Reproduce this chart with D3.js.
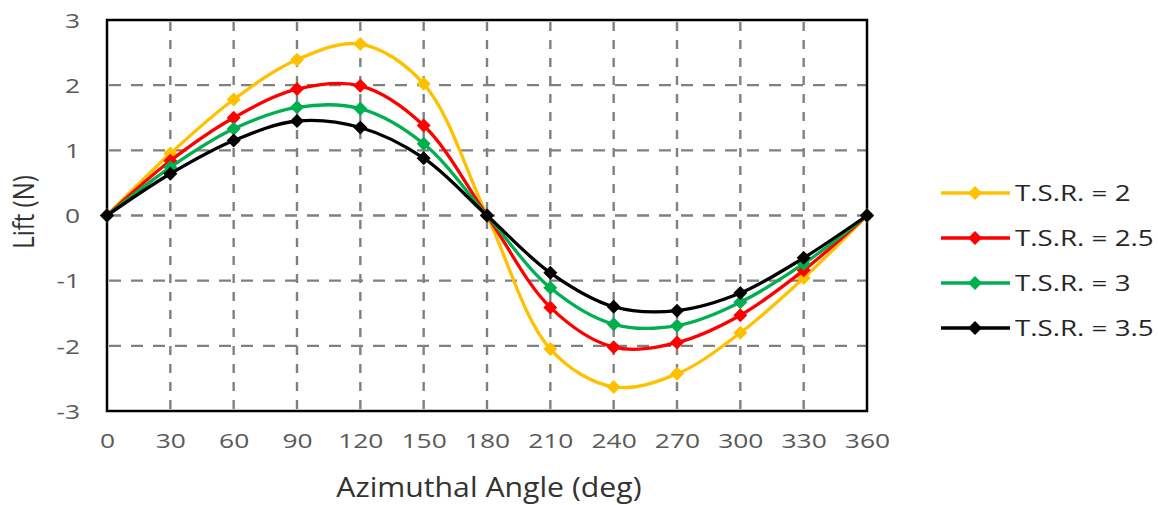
<!DOCTYPE html>
<html><head><meta charset="utf-8">
<script src="https://cdn.jsdelivr.net/npm/d3@7"></script>
<style>body{margin:0;background:#fff;}svg{display:block;font-family:"Open Sans",sans-serif;}</style>
</head><body><svg id="c" width="1158" height="505"></svg>
<script>
const angles = [0,30,60,90,120,150,180,210,240,270,300,330,360];
const tsr2   = [0,0.95,1.78,2.39,2.63,2.02,0,-2.05,-2.63,-2.43,-1.80,-0.96,0];
const tsr25  = [0,0.84,1.50,1.94,1.99,1.38,0,-1.41,-2.02,-1.95,-1.53,-0.84,0];
const tsr3   = [0,0.74,1.33,1.66,1.64,1.10,0,-1.11,-1.67,-1.69,-1.33,-0.74,0];
const tsr35  = [0,0.64,1.15,1.45,1.35,0.88,0,-0.88,-1.40,-1.46,-1.19,-0.65,0];
const seriesNames = ["T.S.R. = 2","T.S.R. = 2.5","T.S.R. = 3","T.S.R. = 3.5"];
const seriesColors = ["#FFC000","#FF0000","#00B050","#000000"];
const yTicks = [-3,-2,-1,0,1,2,3];
const xTicks = angles;

const series = [tsr2,tsr25,tsr3,tsr35].map((v,i)=>({name:seriesNames[i],color:seriesColors[i],values:v}));
const svg = d3.select("#c");
const L=107,R=867,T=20,B=411;
const x = d3.scaleLinear().domain([0,360]).range([L,R]);
const y = d3.scaleLinear().domain([-3,3]).range([B,T]);
const SX = 1.32;

// grid
const grid = svg.append("g");
grid.selectAll("line.v").data(xTicks.slice(1,-1)).enter().append("line")
  .attr("x1",d=>x(d)).attr("x2",d=>x(d)).attr("y1",T+2).attr("y2",B)
  .attr("stroke","#808080").attr("stroke-width",2.4).attr("stroke-dasharray","9,9");
grid.selectAll("line.h").data(yTicks.slice(1,-1)).enter().append("line")
  .attr("x1",L+2).attr("x2",R).attr("y1",d=>y(d)).attr("y2",d=>y(d))
  .attr("stroke","#808080").attr("stroke-width",2.4).attr("stroke-dasharray","12,10");

// x tick labels
const xAxis = d3.axisBottom(x).tickValues(xTicks).tickSize(0).tickPadding(0).tickFormat(d=>String(d));
const gx = svg.append("g").attr("transform",`translate(0,${B})`).call(xAxis);
gx.select(".domain").remove();
gx.selectAll(".tick text").attr("y",0).attr("dy",0)
  .attr("font-size",20).attr("fill","#595959").attr("font-family","Open Sans, sans-serif")
  .attr("transform",`translate(0,37) scale(${SX},1)`);
// y tick labels
const yAxis = d3.axisLeft(y).tickValues(yTicks).tickSize(0).tickPadding(0).tickFormat(d=>String(d));
const gy = svg.append("g").attr("transform",`translate(${L},0)`).call(yAxis);
gy.select(".domain").remove();
gy.selectAll(".tick text").attr("x",0).attr("dy","0.36em")
  .attr("font-size",20).attr("fill","#595959").attr("font-family","Open Sans, sans-serif")
  .attr("transform",`translate(-27,0) scale(${SX},1)`);

// border
svg.append("rect").attr("x",L).attr("y",T).attr("width",R-L).attr("height",B-T)
  .attr("fill","none").attr("stroke","#000").attr("stroke-width",2.5);

// lines
const line = d3.line().x((d,i)=>x(angles[i])).y(d=>y(d)).curve(d3.curveCatmullRom.alpha(0.5));
const diamond = d3.symbol().type(d3.symbolDiamond2).size(125);
series.forEach(s=>{
  svg.append("path").attr("d",line(s.values)).attr("fill","none")
    .attr("stroke",s.color).attr("stroke-width",3.3);
  svg.append("g").selectAll("path").data(s.values).enter().append("path")
    .attr("d",diamond).attr("transform",(d,i)=>`translate(${x(angles[i])},${y(d)})`)
    .attr("fill",s.color);
});

// titles
svg.append("text").attr("transform",`translate(489,497) scale(1.12,1)`).attr("text-anchor","middle")
  .attr("font-size",27).attr("fill","#333333").text("Azimuthal Angle (deg)");
svg.append("text").attr("transform",`translate(34,212) rotate(-90) scale(1,1.25)`).attr("text-anchor","middle")
  .attr("font-size",24).attr("fill","#333333").text("Lift (N)");

// legend
const lg = svg.append("g");
series.forEach((s,i)=>{
  const yy = 193 + i*45;
  lg.append("line").attr("x1",941).attr("x2",1010).attr("y1",yy).attr("y2",yy)
    .attr("stroke",s.color).attr("stroke-width",3.3);
  lg.append("path").attr("d",diamond).attr("transform",`translate(975,${yy})`).attr("fill",s.color);
  lg.append("text").attr("transform",`translate(1015,${yy}) scale(1.26,1)`).attr("dy","0.36em")
    .attr("font-size",22).attr("fill","#262626").text(s.name);
});
</script></body></html>
